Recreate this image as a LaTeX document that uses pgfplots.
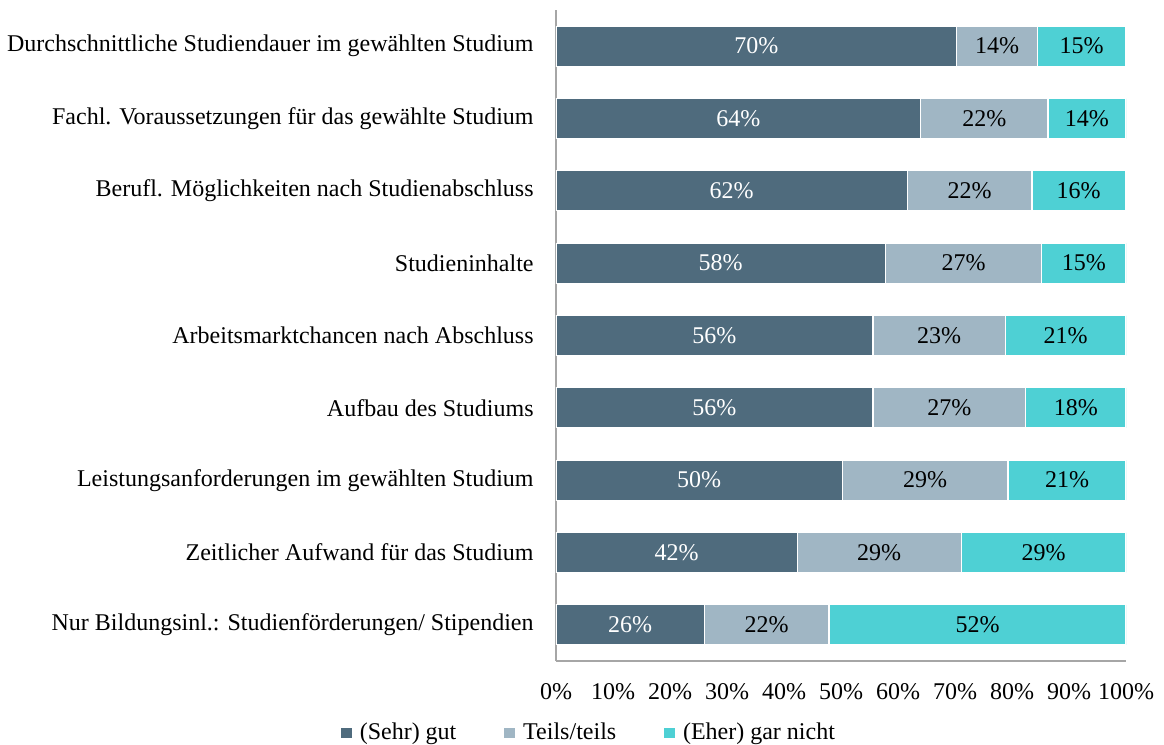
\documentclass[12pt,border=0pt]{standalone}
\usepackage{fontspec}
\setmainfont{Liberation Serif}
\usepackage{pgfplots}
\usepackage{pgfplotstable}
\pgfplotsset{compat=1.18}
\definecolor{cdark}{RGB}{79,107,125}
\definecolor{clight}{RGB}{160,182,196}
\definecolor{ccyan}{RGB}{78,208,212}
\definecolor{caxis}{RGB}{166,166,166}
\pgfplotstableread{
y a b c
0 70.3 14.2 15.4
1 64.0 22.3 13.7
2 61.6 21.9 16.4
3 57.8 27.4 14.8
4 55.6 23.2 21.2
5 55.6 26.8 17.6
6 50.2 29.1 20.7
7 42.3 28.8 28.9
8 26.0 21.9 52.1
}\datatable
\begin{document}
\begin{tikzpicture}
\pgfplotsset{common/.style={
  width=285pt, height=325.5pt, scale only axis,
  xmin=0, xmax=100, ymin=-0.5, ymax=8.5, y dir=reverse,
},
pct/.style={draw=none, mark=none, point meta=explicit,
  nodes near coords={\pgfmathprintnumber[fixed,precision=0]{\pgfplotspointmeta}\%},
  every node near coord/.append style={anchor=center}}}
\begin{axis}[common, xbar stacked, bar width=20pt,
  axis x line*=bottom, axis y line*=left,
  axis line style={caxis, line width=0.8pt},
  xtick={0,10,...,100}, xticklabel={\pgfmathprintnumber{\tick}\%},
  ytick={0,...,8},
  yticklabels={{Durchschnittliche Studiendauer im gewählten Studium},
    {Fachl. Voraussetzungen für das gewählte Studium},
    {Berufl. Möglichkeiten nach Studienabschluss},
    {Studieninhalte},
    {Arbeitsmarktchancen nach Abschluss},
    {Aufbau des Studiums},
    {Leistungsanforderungen im gewählten Studium},
    {Zeitlicher Aufwand für das Studium},
    {Nur Bildungsinl.: Studienförderungen/ Stipendien}},
  major tick length=0pt,
  xticklabel style={yshift=-7pt},
  yticklabel style={xshift=-7pt},
  /pgf/number format/assume math mode=true,
  legend style={at={(axis description cs:0.0596,-0.1106)}, anchor=center, draw=none,
    legend columns=3,
    /tikz/every odd column/.append style={column sep=2pt},
    /tikz/every even column/.append style={column sep=22pt},
    legend cell align=left},
  legend image code/.code={\fill[#1,draw=none] (0pt,-2.7pt) rectangle (5.4pt,2.7pt);},
]
\addplot[fill=cdark, draw=white, line width=0.6pt] table[x=a,y=y]{\datatable};
\addplot[fill=clight, draw=white, line width=0.6pt] table[x=b,y=y]{\datatable};
\addplot[fill=ccyan, draw=white, line width=0.6pt] table[x=c,y=y]{\datatable};
\legend{(Sehr) gut, Teils/teils, (Eher) gar nicht}
\end{axis}
\begin{axis}[common, hide axis, /pgf/number format/assume math mode=true]
\addplot[pct, every node near coord/.append style={text=white}]
  table[x expr=\thisrow{a}/2, y=y, meta=a]{\datatable};
\addplot[pct]
  table[x expr=\thisrow{a}+\thisrow{b}/2, y=y, meta=b]{\datatable};
\addplot[pct]
  table[x expr=\thisrow{a}+\thisrow{b}+\thisrow{c}/2, y=y, meta=c]{\datatable};
\end{axis}
\pgfresetboundingbox
\path ([xshift=-278pt,yshift=-41.5pt]current axis.south west) rectangle ([xshift=19pt,yshift=5pt]current axis.north east);
\end{tikzpicture}
\end{document}
